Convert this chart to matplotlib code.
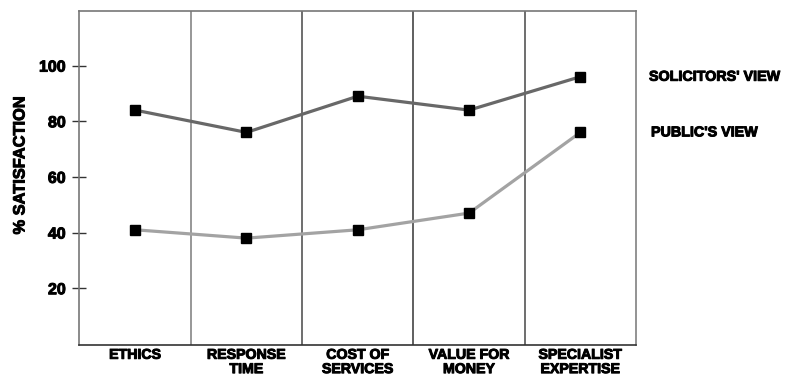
import matplotlib
matplotlib.use("Agg")
import matplotlib.pyplot as plt
import matplotlib.patheffects as pe

# Survey categories and satisfaction scores (%)
categories = ["ETHICS", "RESPONSE\nTIME", "COST OF\nSERVICES", "VALUE FOR\nMONEY", "SPECIALIST\nEXPERTISE"]
solicitors_view = [84, 76, 89, 84, 96]
public_view = [41, 38, 41, 47, 76]
y_ticks = [20, 40, 60, 80, 100]
series_names = ["SOLICITORS' VIEW", "PUBLIC'S VIEW"]

plt.rcParams["font.family"] = ["Liberation Sans", "DejaVu Sans"]
plt.rcParams["font.weight"] = "bold"

# Slight outline to give the lettering a heavier look
heavy = [pe.withStroke(linewidth=0.7, foreground="black")]

fig = plt.figure(figsize=(8.03, 3.76), dpi=100)
ax = fig.add_axes([79.5 / 803, 1 - 345 / 376, (636 - 79.5) / 803, (345 - 10.5) / 376])

x = list(range(len(categories)))

# Category separators
sep_colors = ["#858585", "#555555", "#444444", "#555555"]
for i, c in zip(range(len(categories) - 1), sep_colors):
    ax.axvline(i + 0.5, color=c, lw=1.2, zorder=1)

ax.plot(x, solicitors_view, color="#686868", lw=2.3, marker="s", ms=7.4,
        mfc="black", mec="black", zorder=3, solid_capstyle="butt")
ax.plot(x, public_view, color="#a3a3a3", lw=2.3, marker="s", ms=7.4,
        mfc="black", mec="black", zorder=3, solid_capstyle="butt")

ax.set_xlim(-0.5, len(categories) - 0.5)
ax.set_ylim(-0.4, 119.8)

ax.set_xticks(x)
ax.set_xticklabels(categories, fontsize=10.2, fontweight="bold", linespacing=1.03)
ax.tick_params(axis="x", length=0, pad=2)

ax.set_yticks(y_ticks)
ax.set_yticklabels([str(v) for v in y_ticks], fontsize=11.5, fontweight="bold")
ax.tick_params(axis="y", direction="inout", length=9.8, width=1.0, color="#333333", pad=5)

for lbl in ax.get_xticklabels() + ax.get_yticklabels():
    lbl.set_path_effects(heavy)

for side, col in [("left", "#777777"), ("top", "#777777"), ("right", "#808080"), ("bottom", "#333333")]:
    ax.spines[side].set_color(col)
    ax.spines[side].set_linewidth(1.2)

# Series labels placed beside the final points
trans = ax.get_yaxis_transform()
ax.text((649 - 79.5) / 556.5, solicitors_view[-1], series_names[0], transform=trans,
        ha="left", va="center", fontsize=10.3, fontweight="bold", clip_on=False,
        path_effects=heavy)
ax.text((651 - 79.5) / 556.5, public_view[-1], series_names[1], transform=trans,
        ha="left", va="center", fontsize=10.3, fontweight="bold", clip_on=False,
        path_effects=heavy)

fig.text(20 / 803, 1 - 165.5 / 376, "% SATISFACTION", rotation=90, ha="center", va="center",
         fontsize=11.8, fontweight="bold", path_effects=heavy)

fig.savefig("out.png", dpi=100)
